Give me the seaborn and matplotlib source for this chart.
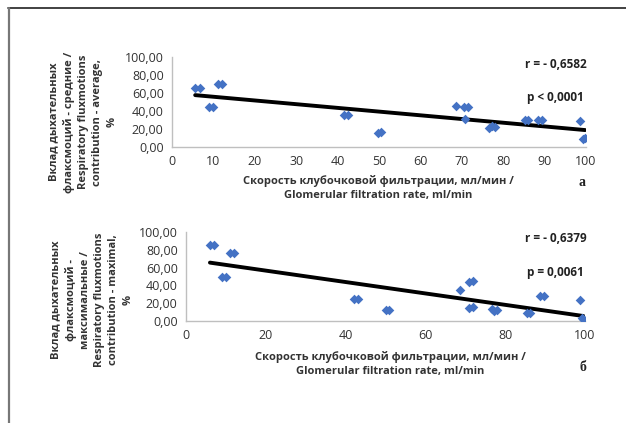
import numpy as np
import pandas as pd
import seaborn as sns
import matplotlib.pyplot as plt
from matplotlib.ticker import FuncFormatter
from matplotlib.lines import Line2D

# Data (GFR vs respiratory fluxmotion contribution)
gfr_a = [5.6, 6.8, 9.0, 10.0, 11.0, 12.0, 41.5, 42.5, 49.7, 50.6, 68.5, 70.5, 71.6, 70.8,
         76.5, 77.3, 78.0, 85.3, 86.1, 88.5, 89.3, 98.5, 99.3, 99.8]
resp_avg = [65.5, 65.5, 44.0, 44.0, 70.0, 70.0, 35.6, 35.6, 16.0, 17.0, 45.5, 44.0, 44.0, 31.0,
            21.5, 23.5, 22.0, 30.0, 30.0, 30.0, 30.0, 29.0, 9.0, 9.5]

gfr_b = [6.0, 7.0, 9.0, 10.0, 11.0, 12.0, 42.0, 43.0, 50.0, 51.0, 68.7, 71.0, 72.0, 71.0, 72.0,
         76.8, 77.3, 78.0, 85.4, 86.2, 88.7, 89.7, 98.7, 99.2, 99.6]
resp_max = [85.0, 85.0, 50.0, 50.0, 76.0, 76.0, 25.0, 25.0, 12.0, 12.0, 35.0, 44.0, 45.0, 15.0, 16.0,
            14.0, 11.0, 12.0, 8.5, 8.5, 28.0, 28.5, 23.5, 3.0, 2.0]

ylabel_a = "Вклад дыхательных\nфлаксмоций - средние /\nRespiratory fluxmotions\ncontribution - average,\n%"
ylabel_b = "Вклад дыхательных\nфлаксмоций -\nмаксимальные /\nRespiratory fluxmotions\ncontribution - maximal,\n%"
xlabel = "Скорость клубочковой фильтрации, мл/мин /\nGlomerular filtration rate, ml/min"
stats_a = ["r = - 0,6582", "p < 0,0001"]
stats_b = ["r = - 0,6379", "p = 0,0061"]

sns.set_style("white")
plt.rcParams['font.family'] = ['Open Sans', 'DejaVu Sans']

fig = plt.figure(figsize=(6.26, 4.23), dpi=100)
W, H = 626, 423

def px_axes(x0, x1, ytop, ybot):
    return fig.add_axes([x0 / W, 1 - ybot / H, (x1 - x0) / W, (ybot - ytop) / H])

ax1 = px_axes(172, 586, 57, 147)
ax2 = px_axes(186, 585, 232, 321)

df_a = pd.DataFrame({"gfr": gfr_a, "resp": resp_avg})
df_b = pd.DataFrame({"gfr": gfr_b, "resp": resp_max})

comma = FuncFormatter(lambda v, p: f"{v:.2f}".replace(".", ","))

for ax, df, xstep in [(ax1, df_a, 10), (ax2, df_b, 20)]:
    sns.regplot(data=df, x="gfr", y="resp", ax=ax, scatter=False, ci=None,
                line_kws=dict(color="black", lw=2.8))
    sns.scatterplot(data=df, x="gfr", y="resp", ax=ax, marker="D", s=24,
                    color="#4472C4", edgecolor="#4472C4", linewidth=0, zorder=3)
    ax.set_xlim(0, 100)
    ax.set_ylim(0, 100)
    ax.set_xticks(np.arange(0, 101, xstep))
    ax.set_yticks(np.arange(0, 101, 20))
    ax.yaxis.set_major_formatter(comma)
    ax.set_xlabel("")
    ax.set_ylabel("")
    for s in ["top", "right"]:
        ax.spines[s].set_visible(False)
    for s in ["left", "bottom"]:
        ax.spines[s].set_color("#BFBFBF")
        ax.spines[s].set_linewidth(1)
    ax.tick_params(axis="both", direction="out", length=3, width=1, color="#BFBFBF",
                   labelsize=9, labelcolor="#333333", pad=3)
    ax.set_facecolor("none")

# y labels (multi-line, bold, rotated)
fig.text(83 / W, 1 - 122 / H, ylabel_a, rotation=90, ha="center", va="center",
         fontsize=8, fontweight="bold", color="#333333", linespacing=1.4)
fig.text(92 / W, 1 - 300 / H, ylabel_b, rotation=90, ha="center", va="center",
         fontsize=8, fontweight="bold", color="#333333", linespacing=1.4)

# x labels
fig.text(378 / W, 1 - 188 / H, xlabel, ha="center", va="center",
         fontsize=8, fontweight="bold", color="#333333", linespacing=1.35)
fig.text(390 / W, 1 - 364 / H, xlabel, ha="center", va="center",
         fontsize=8, fontweight="bold", color="#333333", linespacing=1.35)

# statistics
fig.text(587 / W, 1 - 65 / H, stats_a[0], ha="right", va="center", fontsize=8.5,
         fontweight="bold", color="#222222")
fig.text(584 / W, 1 - 98 / H, stats_a[1], ha="right", va="center", fontsize=8.5,
         fontweight="bold", color="#222222")
fig.text(587 / W, 1 - 238 / H, stats_b[0], ha="right", va="center", fontsize=8.5,
         fontweight="bold", color="#222222")
fig.text(584 / W, 1 - 272 / H, stats_b[1], ha="right", va="center", fontsize=8.5,
         fontweight="bold", color="#222222")

# panel letters
fig.text(582 / W, 1 - 182 / H, "а", ha="center", va="center", fontsize=10,
         fontweight="bold", family="Liberation Serif", color="#222222")
fig.text(583 / W, 1 - 367 / H, "б", ha="center", va="center", fontsize=10,
         fontweight="bold", family="Liberation Serif", color="#222222")

# outer frame (top and left edges only visible)
fig.add_artist(Line2D([8 / W, 1], [1 - 8.5 / H, 1 - 8.5 / H], transform=fig.transFigure,
                      color="#333333", lw=1.3))
fig.add_artist(Line2D([8.5 / W, 8.5 / W], [0, 1 - 8 / H], transform=fig.transFigure,
                      color="#777777", lw=1.6))

fig.savefig("out.png", dpi=100)
